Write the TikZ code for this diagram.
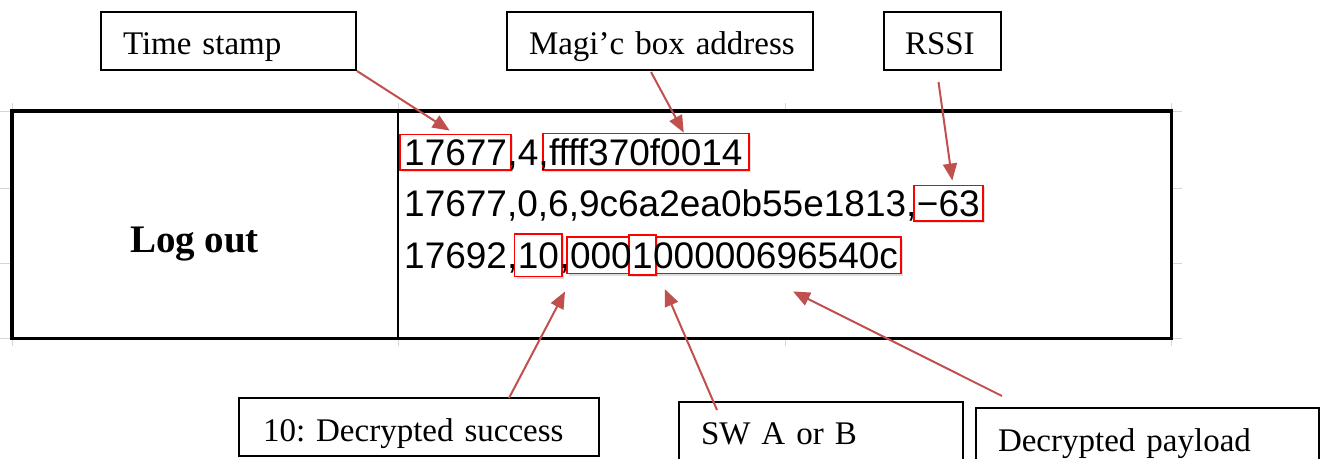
\documentclass[tikz,border=0pt]{standalone}
\usepackage{fontspec}
\setmainfont{Liberation Serif}
\newfontfamily\logfont{Liberation Sans}
\usetikzlibrary{arrows.meta,calc,fit,shadows}
\pgfdeclarelayer{back}
\pgfsetlayers{back,main}
\definecolor{callout}{HTML}{C0504D}
\definecolor{gridgray}{HTML}{D6D6D6}
\definecolor{hilite}{HTML}{FF0000}
\newcommand{\tagtext}[1]{\mbox{#1}}
\begin{document}
\begin{tikzpicture}[x=1pt,y=-1pt,
  tag/.style={draw=black, line width=2pt, anchor=north west, inner ysep=0pt,
    inner xsep=22pt, align=left, font=\fontsize{33}{36}\selectfont\frenchspacing},
  cell/.style={anchor=north west, inner sep=0pt, minimum height=227pt},
  logtext/.style={anchor=base west, inner sep=0pt, font=\logfont\fontsize{37}{40}\selectfont},
  hl/.style={draw=hilite, line width=1.8pt, fill=white, inner xsep=3pt, inner ysep=4.5pt,
    drop shadow={shadow xshift=2pt, shadow yshift=-2pt, fill=black, opacity=0.13}},
  pointer/.style={draw=callout, line width=2pt, -{Triangle[length=17pt,width=14pt]}},
  gridline/.style={draw=gridgray, line width=1pt}
]
\useasboundingbox (0,0) rectangle (1324,458);
\clip (0,0) rectangle (1324,458);

% spreadsheet grid stubs around the table
\foreach \gy in {111,188,263,338} {
  \draw[gridline] (0,\gy) -- (12,\gy);
  \draw[gridline] (1171,\gy) -- (1182,\gy);
}
\foreach \gx in {12,398,785,1171} {
  \draw[gridline] (\gx,103) -- (\gx,111);
  \draw[gridline] (\gx,338) -- (\gx,346);
}

% table
\node[cell, minimum width=386pt] (leftcell) at (12,111) {};
\node[cell, minimum width=773pt] (rightcell) at (398,111) {};
\draw[line width=1.5pt] (rightcell.north west) -- (rightcell.south west);
\draw[line width=3.5pt] (leftcell.north west) rectangle (rightcell.south east);
\node[anchor=base, inner sep=0pt, font=\bfseries\fontsize{39}{42}\selectfont] (logout) at (194.5,252) {Log out};

% log lines
\node[logtext] (r1a) at (404,165) {17677};
\node[logtext] (r1b) at (r1a.base east) {,4,};
\node[logtext] (r1c) at (r1b.base east) {ffff370f0014};

\node[logtext] (r2a) at (404,216) {17677,0,6,9c6a2ea0b55e1813,};
\node[logtext] (r2b) at (r2a.base east) {−63};

\node[logtext] (r3a) at (404,268) {17692,};
\node[logtext] (r3b) at (r3a.base east) {10};
\node[logtext] (r3c) at (r3b.base east) {,};
\node[logtext] (r3d) at (r3c.base east) {000};
\node[logtext] (r3e) at (r3d.base east) {1};
\node[logtext] (r3f) at (r3e.base east) {00000696540c};

% red highlight frames behind the text
\begin{pgfonlayer}{back}
\node[hl, inner xsep=4pt, fit=(r1a)] (b1) {};
\node[hl, inner xsep=6pt, fit=(r1c)] (b2) {};
\node[hl, fit=(r2b)] (b3) {};
\node[hl, inner ysep=8pt, fit=(r3b)] (b4) {};
\node[hl, inner ysep=5pt, fit=(r3d)(r3f)] (b5) {};
\node[hl, inner ysep=7pt, fit=(r3e)] (b6) {};
\end{pgfonlayer}

% callout labels
\node[tag, text width=211pt, text height=42pt, text depth=16pt] (tsbox) at (100,11) {\tagtext{Time stamp}};
\node[tag, text width=262pt, text height=42pt, text depth=16pt] (mbox) at (506,11) {\tagtext{Magi’c box address}};
\node[tag, inner xsep=21pt, text width=75pt, text height=42pt, text depth=16pt] (rbox) at (883,11) {\tagtext{RSSI}};

\node[tag, inner xsep=24pt, text width=312pt, text height=43pt, text depth=15pt] (sbox) at (238,397) {\tagtext{10: Decrypted success}};
\node[tag, text width=240pt, text height=42pt, text depth=40pt] (swbox) at (678,401) {\tagtext{SW A or B}};
\node[tag, text width=299pt, text height=43pt, text depth=40pt] (pbox) at (975,407) {\tagtext{Decrypted payload}};

% pointers
\draw[pointer] (tsbox.south east) -- ($(b1.north)+(-6,-3)$);
\draw[pointer] ($(mbox.south)+(-9,1)$) -- ($(b2.north)+(38,0)$);
\draw[pointer] ($(rbox.south)+(-4,11)$) -- ($(b3.north)+(4,-4)$);
\draw[pointer] ($(sbox.north west)+(271,1)$) -- ($(b4.south east)+(2,14)$);
\draw[pointer] ($(swbox.north west)+(39,9)$) -- ($(b6.south east)+(8,13)$);
\draw[pointer] ($(pbox.north west)+(27,-11)$) -- ($(b5.south)+(59,17)$);
\end{tikzpicture}
\end{document}
